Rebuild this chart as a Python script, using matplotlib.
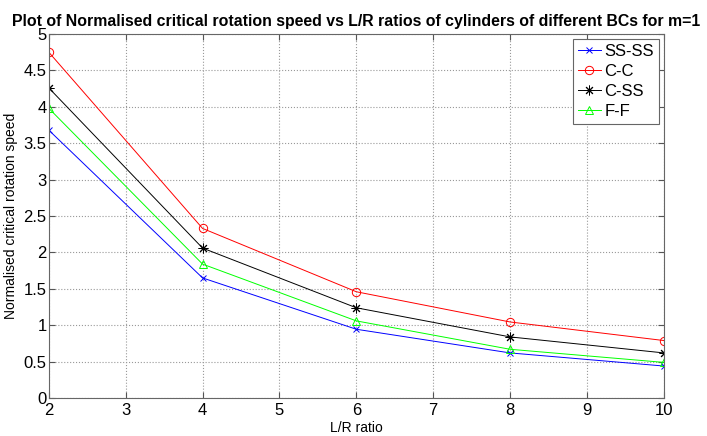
import matplotlib
matplotlib.use("Agg")
import matplotlib.pyplot as plt

plt.rcParams['font.family'] = ['Liberation Sans', 'DejaVu Sans']

lr = [2, 4, 6, 8, 10]
ss_ss = [3.68, 1.65, 0.945, 0.62, 0.44]
c_c = [4.75, 2.33, 1.46, 1.045, 0.79]
c_ss = [4.26, 2.06, 1.24, 0.84, 0.62]
f_f = [3.98, 1.84, 1.06, 0.67, 0.49]

fig = plt.figure(figsize=(7.07, 4.36), dpi=100)
ax = fig.add_axes([0.069, 0.087, 0.870, 0.835])

ax.plot(lr, ss_ss, color='blue', marker='x', ms=5, lw=0.7, mew=0.7, label='SS-SS')
ax.plot(lr, c_c, color='red', marker='o', ms=6, lw=0.7, mew=0.7, mfc='none', label='C-C')
ax.plot(lr, c_ss, color='black', marker=(8, 2, 0), ms=7, lw=0.7, mew=0.7, label='C-SS')
ax.plot(lr, f_f, color='#00ff00', marker='^', ms=6, lw=0.7, mew=0.7, mfc='none', label='F-F')

ax.set_xlim(2, 10)
ax.set_ylim(0, 5)
ax.set_xticks(range(2, 11))
ax.set_yticks([0, 0.5, 1, 1.5, 2, 2.5, 3, 3.5, 4, 4.5, 5])
ax.set_yticklabels(['0', '0.5', '1', '1.5', '2', '2.5', '3', '3.5', '4', '4.5', '5'])
ax.tick_params(direction='in', top=True, right=True, labelsize=12, length=4, color='#555555')
ax.tick_params(axis='y', pad=1.5)
ax.grid(True, linestyle=':', color='#999999', linewidth=0.8)
for s in ax.spines.values():
    s.set_color('#666666')
    s.set_linewidth(0.8)

ax.set_title('Plot of Normalised critical rotation speed vs L/R ratios of cylinders of different BCs for m=1',
             fontsize=11.4, fontweight='bold', pad=6)
ax.set_xlabel('L/R ratio', fontsize=10, labelpad=2)
ax.set_ylabel('Normalised critical rotation speed', fontsize=10, labelpad=4)

leg = ax.legend(loc='upper right', fontsize=12, fancybox=False, framealpha=1,
                edgecolor='#666666', borderaxespad=0.3, handlelength=1.4,
                labelspacing=0.3, borderpad=0.3, handletextpad=0.2)
leg.get_frame().set_linewidth(0.8)

plt.savefig("out.png", dpi=100)
plt.close()
